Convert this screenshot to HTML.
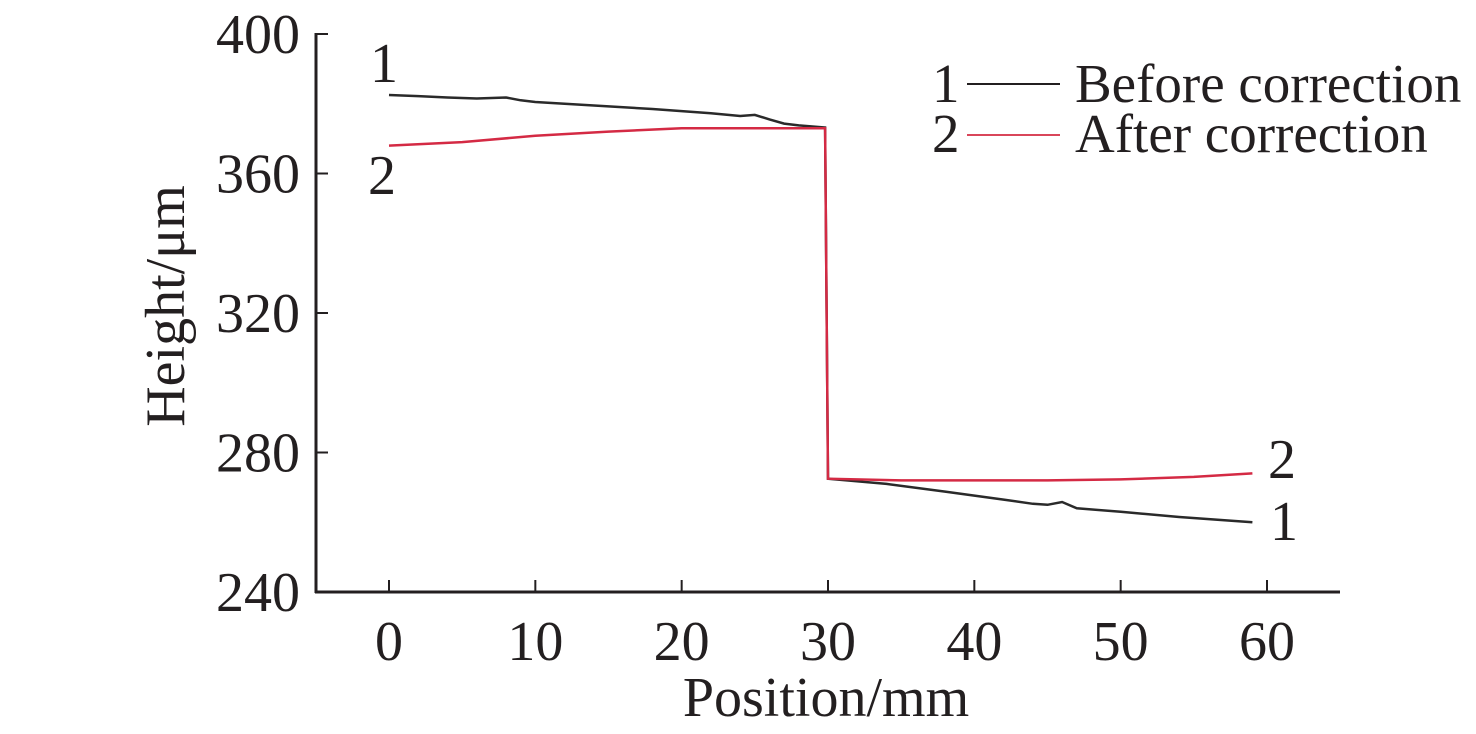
<!DOCTYPE html>
<html><head><meta charset="utf-8"><style>
html,body{margin:0;padding:0;background:#fff;}
svg{display:block;font-family:"Liberation Serif",serif;}
</style></head><body>
<svg id="chart" width="1476" height="734">
<g id="axes"></g>
<g id="series"></g>
<text x="826" y="716" font-size="56" text-anchor="middle" fill="#231f20">Position/mm</text>
<text transform="translate(184,306) rotate(-90)" font-size="56" text-anchor="middle" fill="#231f20">Height/μm</text>
<g>
<g>
<text x="932" y="102" font-size="55" fill="#231f20">1</text>
<line x1="967" y1="84" x2="1060" y2="84" stroke="#231f20" stroke-width="2"/>
<text x="1075" y="102" font-size="55" fill="#231f20">Before correction</text></g>
<g>
<text x="932" y="152" font-size="55" fill="#231f20">2</text>
<line x1="967" y1="135" x2="1060" y2="135" stroke="#d9465a" stroke-width="2"/>
<text x="1075" y="152" font-size="55" fill="#231f20">After correction</text></g>
</g>
<text x="370" y="82" font-size="56" fill="#231f20">1</text>
<text x="368" y="194" font-size="56" fill="#231f20">2</text>
<text x="1268" y="478" font-size="56" fill="#231f20">2</text>
<text x="1270" y="540" font-size="56" fill="#231f20">1</text>
</svg>
<script>
const xTicks=[0,10,20,30,40,50,60];
const yTicks=[240,280,320,360,400];
const beforeX=[0,2,4,6,8,9,10,14,18,22,24,25,26,27,28,29.8,30,34,38,42,44,45,46,47,50,54,59];
const beforeY=[382.5,382.2,381.8,381.5,381.8,381,380.5,379.5,378.5,377.3,376.5,376.8,375.5,374.3,373.8,373.2,272.5,271,268.8,266.5,265.3,265,265.8,264,263,261.5,260];
const afterX=[0,5,10,15,20,25,29.8,30,35,40,45,50,55,59];
const afterY=[368,369,370.8,372,373,373,373,272.5,272,272,272,272.3,273,274];
const NS="http://www.w3.org/2000/svg";
const sx=v=>389+v*(1267-389)/60;
const sy=v=>592-(v-240)*(592-34)/160;
const axes=document.getElementById('axes'),series=document.getElementById('series');
function mk(tag,attrs,parent){const e=document.createElementNS(NS,tag);for(const k in attrs)e.setAttribute(k,attrs[k]);parent.appendChild(e);return e;}
const yl=mk('line',{x1:316,y1:33,x2:316,y2:593,stroke:'#231f20','stroke-width':3},axes);


const xl=mk('line',{x1:315,y1:592,x2:1340,y2:592,stroke:'#231f20','stroke-width':3},axes);


xTicks.forEach(v=>{
 const t=mk('line',{x1:sx(v),y1:592,x2:sx(v),y2:580,stroke:'#231f20','stroke-width':2},axes);
 
 
 const l=mk('text',{x:sx(v),y:660,'font-size':56,'text-anchor':'middle',fill:'#231f20'},axes);
 l.textContent=v;
 
 
});
yTicks.forEach(v=>{
 const t=mk('line',{x1:316,y1:sy(v),x2:328,y2:sy(v),stroke:'#231f20','stroke-width':2},axes);
 
 
 const l=mk('text',{x:300,y:sy(v)+19,'font-size':56,'text-anchor':'end',fill:'#231f20'},axes);
 l.textContent=v;
 
 
});
function path(xs,ys){return xs.map((x,i)=>(i?'L':'M')+sx(x).toFixed(1)+','+sy(ys[i]).toFixed(1)).join('');}
const pb=mk('path',{d:path(beforeX,beforeY),fill:'none',stroke:'#2a2a2a','stroke-width':2.5},series);


const pa=mk('path',{d:path(afterX,afterY),fill:'none',stroke:'#d42a44','stroke-width':2.5},series);


</script>
</body></html>
